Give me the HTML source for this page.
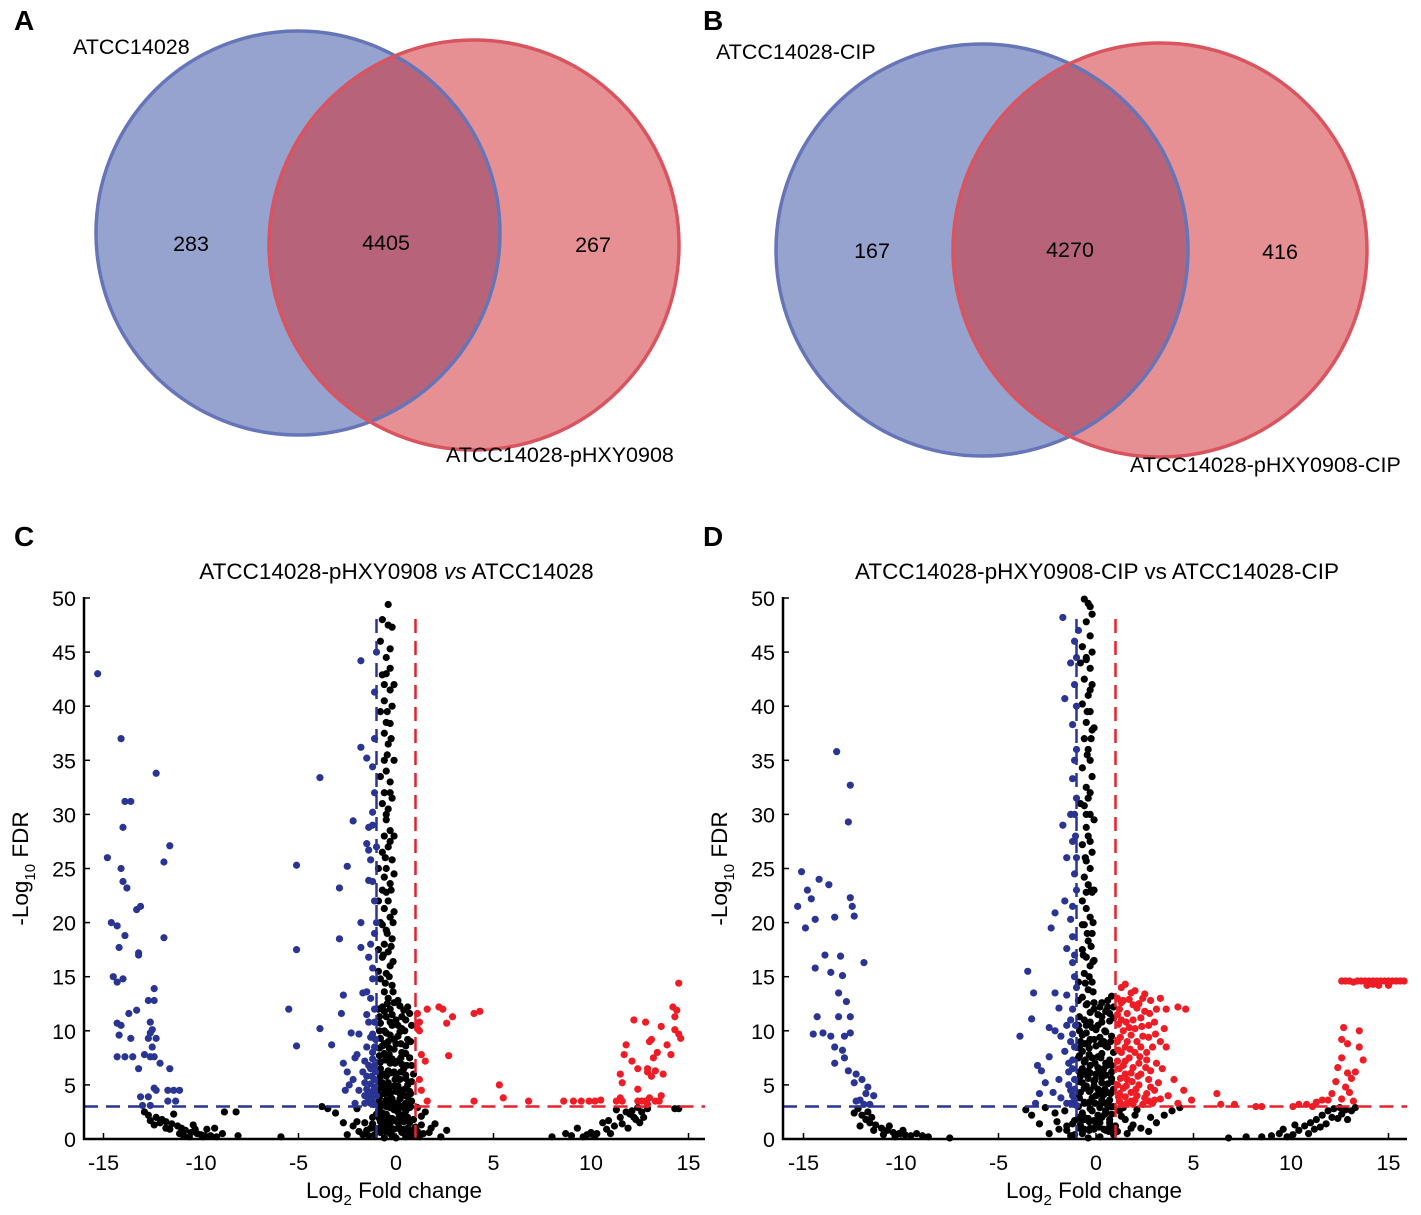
<!DOCTYPE html>
<html><head><meta charset="utf-8"><style>
html,body{margin:0;padding:0;background:#fff;}
svg{display:block;font-family:"Liberation Sans",Arial,sans-serif;}
</style></head><body>
<svg id="fig" width="1421" height="1215" viewBox="0 0 1421 1215" xmlns="http://www.w3.org/2000/svg">
<defs>
<clipPath id="clipA"><circle cx="298" cy="233" r="202"/></clipPath>
<clipPath id="clipB"><circle cx="982" cy="250" r="206"/></clipPath>
</defs>
<g>
<text x="14" y="30" font-size="28" font-weight="bold">A</text>
<circle cx="298" cy="233" r="202" fill="#97a3cf"/>
<circle cx="474" cy="245" r="205" fill="#e79094"/>
<circle cx="474" cy="245" r="205" fill="#b7647b" clip-path="url(#clipA)"/>
<circle cx="298" cy="233" r="202" fill="none" stroke="#6575b8" stroke-width="3.5"/>
<circle cx="474" cy="245" r="205" fill="none" stroke="#d9545f" stroke-width="3.5"/>
<text x="73" y="54" font-size="21.5">ATCC14028</text>
<text x="446" y="462" font-size="21.5">ATCC14028-pHXY0908</text>
<text x="191" y="251" font-size="21.5" text-anchor="middle">283</text>
<text x="386" y="250" font-size="21.5" text-anchor="middle">4405</text>
<text x="593" y="252" font-size="21.5" text-anchor="middle">267</text>
</g>
<g>
<text x="703" y="30" font-size="28" font-weight="bold">B</text>
<circle cx="982" cy="250" r="206" fill="#97a3cf"/>
<circle cx="1160" cy="250" r="207" fill="#e79094"/>
<circle cx="1160" cy="250" r="207" fill="#b7647b" clip-path="url(#clipB)"/>
<circle cx="982" cy="250" r="206" fill="none" stroke="#6575b8" stroke-width="3.5"/>
<circle cx="1160" cy="250" r="207" fill="none" stroke="#d9545f" stroke-width="3.5"/>
<text x="716" y="59" font-size="21.5">ATCC14028-CIP</text>
<text x="1130" y="472" font-size="21.5">ATCC14028-pHXY0908-CIP</text>
<text x="872" y="258" font-size="21.5" text-anchor="middle">167</text>
<text x="1070" y="257" font-size="21.5" text-anchor="middle">4270</text>
<text x="1280" y="259" font-size="21.5" text-anchor="middle">416</text>
</g>
<text x="14" y="546" font-size="28" font-weight="bold">C</text>
<text x="703" y="546" font-size="28" font-weight="bold">D</text>
<g id="plotC"></g>
<g id="plotD"></g>
</svg>
<script>
const xTicks = [-15,-10,-5,0,5,10,15];
const yTicks = [0,5,10,15,20,25,30,35,40,45,50];
const sigFDR = 3;
const fcCut = 1;

const cBlue = [[-15.3,43],[-14.8,26],[-14.6,20],[-14.3,19.7],[-14.1,37],[-14.0,28.8],[-13.9,31.2],[-13.6,31.2],[-14.1,25],[-14.0,23.8],[-13.8,23.2],[-14.2,17.7],[-14.5,15],[-14.3,14.5],[-14.0,14.8],[-13.9,18.8],[-13.3,21.2],[-13.1,21.5],[-13.2,17.2],[-13.2,17],[-12.3,33.8],[-11.6,27.1],[-11.9,25.6],[-11.9,18.6],[-14.3,10.7],[-14.1,10.5],[-14.2,9.6],[-13.7,11.6],[-13.3,11.9],[-13.6,9.3],[-12.7,12.8],[-12.4,12.8],[-12.4,13.9],[-12.6,10.8],[-12.5,10.1],[-12.6,9.8],[-12.3,9.3],[-12.7,9.3],[-12.5,8.5],[-14.3,7.6],[-13.9,7.6],[-13.5,7.6],[-12.9,7.8],[-12.6,7.6],[-12.4,7.6],[-12.1,7.0],[-13.2,6.5],[-11.6,6.5],[-12.4,4.7],[-12.3,4.5],[-11.7,4.5],[-11.4,4.5],[-11.1,4.5],[-13.1,3.9],[-12.7,3.9],[-11.7,3.5],[-11.3,3.5],[-13.0,3.1],[-12.6,3.1],
[-3.9,33.4],[-5.1,25.3],[-5.1,17.5],[-5.5,12],[-5.1,8.6],[-3.9,10.2],[-3.3,8.7],[-2.9,23.2],[-2.9,18.5],[-2.5,25.2],[-2.2,29.4],[-2.7,13.3],[-2.8,11.6],[-2.7,7],[-2.5,6.2],[-2.6,4.5],[-2.3,9.8],[-2.1,7.5],[-1.8,44.2],[-1.8,36.2],[-1.5,35.2],[-1.2,34.4],[-1.1,32],[-1.2,30.2],[-1.4,28.8],[-1.5,27.3],[-1.4,26.7],[-1.3,25.8],[-1.8,20],[-1.8,17.7],[-1.4,16.8],[-1.3,18],[-1.2,23.8],[-1.4,23.9],[-1.1,22],[-1.5,13.6],[-1.7,13.5],[-1.3,13],[-1.2,14.8],[-1.5,11.5],[-1.4,10.8],[-1.2,9.7],[-1.1,41.3],[-1.0,45],[-1.5,8.5],[-1.9,9.7],[-2.0,7.8],[-2.2,5.5],[-2.4,5],[-1.9,4.5],[-1.6,5.2],[-1.3,6.5],[-1.2,7.4],[-1.1,5.5],[-1.3,3.8],[-1.6,3.3],[-2.1,3.3],[-1.0,4],[-1.1,12],[-1.0,20],[-1.0,27],[-1.2,3.5],[-1.1,4.8],[-1.4,4.2],[-1.05,6.2],[-1.25,5.8],[-1.15,3.2],[-1.4,6.8],[-1.6,7.2],[-1.1,8.5],[-1.3,9.4],[-1.1,10.8],[-1.5,4.6],[-1.7,6.2],[-1.2,15.8],[-1.1,19],[-1.2,29],[-1.1,37],[-1.3,3.3],[-1.5,5.8],[-1.2,4.4],[-1.4,3.6],[-1.1,6.8],[-1.3,5.1],[-1.6,4.0],[-1.2,8.0],[-1.05,9.2]];
const cRed = [[1.1,11.6],[1.2,10.8],[1.1,10.2],[1.2,10],[1.6,12],[2.2,12.2],[2.4,12],[2.9,11.3],[2.6,10.7],[4.0,11.6],[4.3,11.8],[2.7,7.7],[1.3,7.8],[1.5,7.2],[1.2,5.5],[1.3,4.5],[1.6,3.5],[4.0,3.5],[5.3,5],[5.5,3.8],[6.8,3.5],[8.6,3.5],[9.1,3.5],[9.5,3.5],[9.9,3.5],[10.2,3.5],[10.5,3.6],[11.3,3.5],[11.5,3.8],[11.5,6],[11.6,5.2],[11.7,7.8],[11.8,8.7],[12.1,7.2],[12.2,11],[12.4,6.5],[12.4,4.6],[12.4,3.5],[12.6,3.5],[12.8,10.8],[12.9,6.5],[12.9,6.2],[13.0,9],[13.1,9.2],[13.1,5.8],[13.2,7.5],[13.3,6.3],[13.4,8],[13.6,10.4],[13.6,4],[13.7,6],[13.9,8.7],[14.1,7.8],[14.2,12.2],[14.3,11.3],[14.4,11.9],[14.3,10.1],[14.5,9.7],[14.6,9.3],[14.5,14.4],[12.9,3.2],[13.0,3.8],[13.3,3.5],[13.5,3.5],[12.8,3.5],[11.6,3.5]];
const cBlack = [[-12.9,2.5],[-12.7,2.2],[-12.3,2],[-12.0,1.8],[-11.8,1.6],[-11.5,1.4],[-11.2,1.2],[-11,1],[-10.8,0.8],[-10.5,0.6],[-10.2,0.5],[-10,0.4],[-9.8,0.3],[-9.5,0.3],[-9.2,0.2],[-8.9,0.5],[-8.8,2.5],[-8.2,2.5],[-8.1,0.3],[-9.3,1],[-10.4,1.3],[-11.4,2.3],[-11.8,1],[-12.4,1.3],[-10.9,0.3],[-9.7,0.9],[-5.9,0.2],[-12.6,1.7],[-11.1,0.5],[-10.6,0.2],[-12.1,1.5],[-11.6,0.9],[-10.3,0.9],[-9.9,0.2],
[8,0.2],[8.7,0.5],[9.0,0.3],[9.3,1],[9.6,0.2],[10,0.6],[10.3,0.5],[10.6,1.5],[10.9,1.7],[11.2,1.2],[11.3,2.7],[11.5,2],[11.8,2.5],[12.0,2.3],[12.2,2.0],[12.4,2.9],[12.6,2.5],[12.9,2.8],[12.5,1.5],[11.9,1],[10.2,0.3],[11,0.5],[12.3,1.8],[14.3,2.8],[14.5,2.8],[9.8,0.4],[11.6,1.4],[12.1,2.6],[12.7,2.0],[10.8,0.9],
[-0.4,49.4],[-0.7,48],[-0.8,46],[-0.4,47.5],[-0.2,47.3],[-0.3,45.3],[-0.5,43],[-0.3,43.5],[-0.7,42.9],[-0.6,42],[-0.6,40.5],[-0.2,40],[-0.8,39.5],[-0.5,38.5],[-0.3,38.4],[-0.6,37.5],[-0.4,36.5],[-0.6,35],[-0.5,34],[-0.8,33.5],[-0.3,33],[-0.6,32],[-0.2,31.5],[-0.7,31],[-0.4,30.5],[-0.5,29.5],[-0.3,28.5],[-0.6,28],[-0.4,27],[-0.7,26.5],[-0.2,25.8],[-0.5,25],[-0.6,24.2],[-0.3,23.6],[-0.7,23],[-0.4,22],[-0.6,21.3],[-0.3,20.5],[-0.8,20],[-0.5,19.3],[-0.2,18.5],[-0.6,18],[-0.4,17.3],[-0.7,16.8],[-0.3,16],[-0.5,15.3],[-0.8,14.8],[-0.2,14.2],[-0.6,13.6],[-0.4,13],[0.1,12.8],[-0.7,12.2],[-0.3,12],[0.2,12.3],[0.4,11.9],[-0.5,11.3],[0.0,11],[0.5,11],[-0.8,10.7],[-0.2,10.5],[0.3,10.2],[-0.6,10],[0.1,9.5],[-0.4,9],[0.6,9.2],[-0.7,8.6],[-0.1,8.3],[0.3,8],[-0.5,7.6],[0.1,7.2],[0.7,7.5],[-0.3,7],[-0.8,6.5],[0.4,6.5],[-0.1,6.2],[-0.5,5.8],[0.2,5.5],[-0.7,5.2],[0.6,5],[-0.3,4.8],[0.0,4.4],[-0.6,4.2],[0.4,4],[-0.2,3.7],[-0.9,3.4],[0.8,3.5],[0.1,3.2],[-0.5,3],[-0.1,2.7],[0.5,2.6],[-0.7,2.4],[0.3,2.2],[-0.4,2],[-1.2,2],[1.5,2.5],[0.9,1.8],[-0.8,1.6],[0.1,1.5],[-1.6,1.5],[1.3,1.3],[-0.3,1.2],[0.6,1],[-2.2,1.2],[2.0,1.4],[-1,0.9],[-0.5,0.7],[0.3,0.6],[-1.9,0.7],[1.7,0.6],[2.6,0.8],[-2.7,1.5],[-3.1,2.4],[-3.5,2.8],[-0.2,0.3],[0.8,0.3],[-1.4,0.3],[-2.5,0.4],[1.2,0.2],[0.0,0.1],[-0.6,0.1],[2.3,0.2],[-3.8,3],[-2.0,2.8],[1.1,2.9],[0.7,4.4],[0.9,6],[0.5,7.9],[0.2,9.9],[0.8,10.5],
[-0.6,11.8],[-0.2,11.5],[-0.8,9.3],[-0.3,9.6],[0.0,8.8],[-0.6,7.9],[-0.2,7.4],[-0.8,7.1],[0.3,6.9],[-0.4,6.3],[0.0,5.9],[-0.8,5.8],[0.5,5.6],[-0.4,5.2],[0.1,4.9],[-0.8,4.7],[0.3,4.5],[-0.3,4.1],[-0.9,4.1],[0.6,3.9],[-0.5,3.6],[0.2,3.7],[-0.8,3.0],[0.4,3.1],[-0.3,2.9],[0.7,2.9],[-0.9,2.6],[0.1,2.5],[-0.5,2.3],[0.6,2.0],[-0.2,1.9],[-1.0,2.3],[0.4,1.6],[-0.6,1.4],[1.0,1.1],[-1.3,1.0],[0.2,0.9],[-0.8,0.6],[1.4,0.5],[-1.7,0.4],[0.5,0.2],[-0.3,0.5],[-0.9,12.0],[-0.9,15.5],[-0.9,17.5],[-0.9,22],[-0.9,25],[-0.1,21],[-0.1,24.5],[-0.1,28],[-0.1,35],[-0.1,42],
[-0.85,1.0],[-0.6,0.9],[-0.35,0.8],[-0.1,0.9],[0.15,1.1],[0.4,0.9],[0.65,0.7],[-0.85,1.9],[-0.6,2.0],[-0.35,1.6],[-0.1,1.7],[0.15,2.0],[0.45,2.3],[0.7,1.5],[-0.85,3.8],[-0.6,3.3],[-0.35,3.4],[-0.05,3.3],[0.2,2.9],[0.5,3.3],[0.75,3.0],[-0.85,5.3],[-0.6,4.7],[-0.35,4.4],[-0.1,4.9],[0.2,4.2],[0.45,4.6],[0.75,4.2],[-0.85,6.2],[-0.6,6.0],[-0.3,6.1],[-0.05,5.5],[0.25,6.2],[0.5,5.9],[0.8,5.3],[-0.85,7.7],[-0.55,7.3],[-0.35,7.8],[-0.05,7.0],[0.25,7.5],[0.55,6.8],[0.8,6.8],[-0.85,8.4],[-0.6,8.8],[-0.35,8.4],[-0.1,9.2],[0.25,8.8],[0.5,8.6],[0.75,9.0],[-0.85,10.0],[-0.5,9.8],[-0.3,10.8],[0.1,10.5],[0.45,10.0],[0.7,11.6],[-0.85,11.3],[-0.45,12.5],[-0.1,12.6],[0.3,11.3],[0.6,12.2],[-0.15,13.6],[-0.55,14.4],[-0.35,15.0],[-0.15,16.4],[-0.65,17.0],[-0.25,17.8],[-0.45,19.0],[-0.7,19.8],[-0.15,20.0],[-0.5,22.8],[-0.25,23.0],[-0.55,26.0],[-0.3,27.5],[-0.5,30.0],[-0.3,32.0],[-0.45,35.5],[-0.25,37.0],[-0.45,39.5],[-0.3,41.5],[-0.5,44.5],[1.1,0.7],[1.3,2.1],[1.8,1.0],[-1.2,1.4],[-1.5,0.8],[-2.0,1.6],[-1.1,0.4],[0.9,0.9]];

const dBlue = [[-15.1,24.7],[-14.8,23],[-15.3,21.5],[-14.9,19.5],[-14.6,22.2],[-14.4,20.3],[-14.2,24],[-13.7,23.5],[-13.3,35.8],[-12.6,32.7],[-12.7,29.3],[-12.6,22.3],[-12.4,20.6],[-13.4,20.5],[-12.5,21.5],[-11.9,16.3],[-14.4,15.8],[-13.9,17],[-13.6,15.4],[-13.1,16.9],[-13.0,15.1],[-13.2,13.5],[-14.3,11.3],[-14.5,9.7],[-14.0,9.8],[-13.6,9.5],[-13.2,11.3],[-12.8,12.7],[-12.6,11.3],[-12.6,9.8],[-12.9,9.5],[-13.0,8.2],[-13.4,8.5],[-12.9,7.5],[-13.4,7],[-12.7,6.3],[-12.3,6],[-12.0,5.5],[-12.4,5.2],[-11.7,4.8],[-11.8,4.2],[-11.4,4],[-12.1,3.6],[-11.9,3.2],[-11.6,3.2],[-12.3,3.5],
[-1.7,48.2],[-1.6,40.7],[-1.1,46],[-0.9,47],[-1.3,44],[-1.1,42],[-1.0,40],[-1.2,38.3],[-1.0,36],[-1.1,35],[-1.2,33.3],[-1.0,31.5],[-1.3,30],[-1.7,29],[-1.2,27.5],[-1.5,26],[-1.1,24.5],[-1.0,23],[-1.6,22],[-2.1,20.9],[-2.3,19.5],[-1.3,20.3],[-1.2,18.7],[-1.5,17.6],[-1.2,16.3],[-1.1,15],[-3.5,15.5],[-3.2,13.5],[-2.1,13.5],[-1.9,12.1],[-1.5,13.3],[-1.2,12],[-3.9,9.5],[-3.3,11.1],[-2.4,10.3],[-2.1,10],[-1.8,9.5],[-1.5,10.5],[-1.3,9],[-3.0,6.8],[-2.8,6.3],[-2.4,7.6],[-1.6,8.1],[-1.2,7.3],[-2.6,5.2],[-1.9,5.5],[-1.4,6.2],[-1.1,5.5],[-2.9,4.2],[-2.2,4.3],[-1.8,3.8],[-1.3,4.5],[-1.1,3.6],[-3.1,3.3],[-1.5,3.3],[-1.0,3.1],[-1.2,6.5],[-1.05,10.5],[-1.05,28],[-1.0,44.5],[-1.2,4.0],[-1.4,5.0],[-1.1,8.5],[-1.3,11],[-1.0,14],[-1.1,17],[-1.2,21.5],[-1.0,26],[-1.1,30],[-1.3,3.3],[-1.1,4.6],[-1.4,7.0],[-1.2,9.7]];
const dRed = [[1.1,13],[1.3,14],[1.5,14.3],[1.8,13.5],[2.0,13.7],[2.2,12.5],[2.5,13.4],[2.8,12.8],[3.1,12],[3.3,13],[3.6,12],[4.2,12.2],[4.6,12],[1.2,12],[1.6,11.6],[1.9,11],[2.3,11.2],[2.7,10.5],[3.0,10.8],[3.5,10.2],[1.4,10],[1.8,9.6],[2.1,9],[2.4,9.5],[2.9,8.5],[3.3,9],[1.1,9],[1.3,8],[1.7,7.5],[2.0,8],[2.6,7.3],[3.1,7],[3.6,8.5],[1.2,6.5],[1.5,6],[1.9,6.6],[2.3,6],[2.7,5.5],[3.4,6.5],[4.0,5.5],[1.1,5],[1.4,4.7],[1.8,4.3],[2.2,5],[2.6,4.2],[3.0,4.5],[3.7,4],[4.5,4.5],[1.2,3.5],[1.6,3.3],[2.0,3.6],[2.4,3.2],[2.9,3.3],[3.3,3.7],[4.2,3.3],[4.9,3.6],[1.3,11],[2.5,11.8],[1.5,8.5],[2.2,7],[1.1,7.2],[1.1,11.5],[1.2,4.2],[1.4,12.8],[1.7,10.3],[1.4,6.8],[1.9,12.4],[2.1,4.0],[1.6,5.5],[2.8,6.3],[3.2,5.2],[2.4,13.0],
[1.15,3.9],[1.25,5.6],[1.15,8.2],[1.25,9.4],[1.15,10.6],[1.3,12.6],[1.5,3.9],[1.55,4.9],[1.5,7.2],[1.6,9.0],[1.55,10.8],[1.7,12.9],[1.8,3.5],[1.85,5.3],[1.8,6.1],[1.75,8.3],[2.0,10.2],[2.1,12.1],[2.05,4.6],[2.15,5.8],[2.25,7.6],[2.3,8.5],[2.35,10.4],[2.5,3.8],[2.55,6.6],[2.6,8.0],[2.7,9.4],[2.75,11.6],[2.8,4.8],[3.0,3.6],[3.05,9.7],[1.3,3.2],[1.9,3.2],[2.7,3.5],
[6.2,4.2],[6.4,3.2],[7.1,3.2],[8.2,3],[8.5,3],[10.1,3],[10.4,3.2],[10.8,3.2],[11.1,3],[11.3,3.4],[11.6,3.6],[11.9,3.6],[12.1,4.2],[12.3,5.3],[12.4,6.6],[12.6,7.5],[12.7,10.3],[12.6,9.2],[12.9,8.8],[12.9,6.1],[13.0,4.3],[13.1,5.6],[13.3,6.2],[13.5,8.5],[13.5,10],[13.7,7.3],[12.6,3.7],[12.8,4.8],[13.2,3.5],
[12.6,14.6],[12.8,14.6],[13.0,14.6],[13.2,14.5],[13.4,14.6],[13.6,14.6],[13.8,14.6],[14.0,14.6],[14.2,14.6],[14.4,14.6],[14.6,14.6],[14.8,14.6],[15.0,14.6],[15.2,14.6],[15.4,14.6],[15.6,14.6],[15.8,14.6],[13.9,14.2],[14.5,14.2],[15.0,14.2],[14.2,14.3]];
const dBlack = [[-12.2,2.8],[-12.0,2.2],[-11.8,1.8],[-11.6,1.5],[-11.3,1.3],[-11.0,1.0],[-10.7,0.8],[-10.4,0.6],[-10.1,0.5],[-9.8,0.4],[-9.5,0.3],[-9.2,0.5],[-8.9,0.3],[-8.6,0.2],[-11.4,0.8],[-10.9,0.4],[-10.3,0.2],[-9.9,0.8],[-12.1,1.2],[-11.7,2.5],[-7.5,0.1],[-12.4,2.4],[-11.5,2.0],[-10.6,1.2],
[8.5,0.2],[9.0,0.3],[9.4,0.5],[9.8,0.2],[10.1,0.4],[10.4,0.8],[10.7,1.2],[11.0,1.5],[11.3,1.8],[11.6,2.2],[11.9,2.6],[12.2,2.8],[12.5,2.9],[12.8,2.7],[13.1,2.6],[11.2,0.9],[10.9,0.5],[11.8,1.4],[12.4,1.9],[10.2,1.3],[13.3,2.9],[12.9,1.8],[9.6,0.9],[6.8,0.1],[7.7,0.2],[12.1,2.0],[11.5,1.1],[12.6,2.3],
[-0.6,49.9],[-0.4,49.5],[-0.3,49.2],[-0.2,48.5],[-0.5,47.8],[-0.3,46.5],[-0.7,45.5],[-0.2,45],[-0.5,44.3],[-0.3,43.5],[-0.6,42.5],[-0.2,42],[-0.4,41],[-0.7,40.2],[-0.3,39.5],[-0.5,38.5],[-0.2,37.8],[-0.6,37],[-0.4,36],[-0.3,35],[-0.7,34.3],[-0.2,33.5],[-0.5,32.5],[-0.4,31.5],[-0.6,30.8],[-0.3,30],[-0.1,29.5],[-0.5,28.8],[-0.4,28],[-0.7,27.2],[-0.2,26.5],[-0.5,25.7],[-0.3,25],[-0.6,24.2],[-0.4,23.5],[-0.2,22.8],[-0.7,22],[-0.5,21.3],[-0.3,20.5],[-0.6,19.8],[-0.2,19],[-0.4,18.3],[-0.7,17.5],[-0.5,16.8],[-0.3,16],[-0.6,15.3],[-0.2,14.5],[-0.4,13.8],[-0.7,13.1],[-0.5,12.4],[0.3,12.6],[0.6,12.8],[0.8,13.2],[-0.3,11.7],[0.1,11.5],[0.5,11.8],[-0.6,11],[0.3,10.8],[0.7,10.9],[-0.2,10.3],[0.0,10.1],[0.5,9.9],[-0.7,9.6],[0.2,9.4],[0.8,9.5],[-0.4,8.9],[0.0,8.6],[0.6,8.5],[-0.7,8.1],[0.3,7.9],[0.9,8],[-0.2,7.5],[-0.6,7.1],[0.5,7.0],[0.1,6.6],[-0.4,6.3],[0.8,6.2],[-0.8,5.8],[0.3,5.7],[-0.1,5.3],[0.6,5.1],[-0.5,4.9],[0.1,4.6],[0.9,4.6],[-0.8,4.3],[0.4,4.1],[-0.2,3.8],[0.7,3.6],[-0.6,3.4],[0.2,3.2],[-0.9,3.0],[0.9,3.0],[-0.3,2.8],[0.5,2.6],[-0.7,2.4],[0.1,2.2],[1.2,2.6],[-0.4,1.9],[0.7,1.8],[-1.1,1.7],[1.5,1.8],[0.2,1.5],[-0.8,1.3],[1.0,1.2],[-1.5,1.2],[1.9,1.3],[-0.3,1.0],[0.5,0.8],[-1.9,0.9],[2.3,1.0],[-0.7,0.5],[0.9,0.4],[-1.3,0.3],[1.6,0.5],[2.7,0.7],[-2.4,0.5],[0.2,0.2],[-0.4,0.1],[3.1,1.5],[3.5,2.2],[3.9,2.6],[2.0,2.2],[-2.9,1.4],[-3.3,2.2],[-3.6,2.7],[-2.1,2.4],[-1.6,2.6],
[-0.1,12],[-0.5,10.5],[-0.8,9.0],[-0.3,9.2],[0.4,9.0],[-0.9,7.5],[0.1,7.6],[0.7,7.3],[-0.3,6.8],[0.4,6.5],[-0.7,6.5],[0.0,6.0],[0.8,5.6],[-0.4,5.6],[0.3,5.2],[-0.7,5.2],[-0.3,4.5],[0.6,4.3],[-0.9,4.0],[0.0,4.0],[0.3,3.6],[-0.4,3.3],[0.6,3.1],[-0.2,2.6],[0.8,2.3],[-0.9,2.0],[0.3,2.0],[-0.6,1.8],[0.0,1.3],[0.7,1.2],[-0.9,10.5],[-0.9,12.8],[0.9,11.2],[0.9,12.2],[0.2,12.2],[-0.9,14.5],[-0.1,16.5],[-0.1,23],[-0.1,38],[-0.8,31],[-0.8,44],
[-0.85,1.0],[-0.6,0.9],[-0.35,0.8],[-0.1,0.9],[0.15,1.1],[0.4,0.9],[0.65,0.7],[-0.85,1.9],[-0.6,2.0],[-0.35,1.6],[-0.1,1.7],[0.15,2.0],[0.45,2.3],[0.7,1.5],[-0.85,3.8],[-0.6,3.3],[-0.35,3.4],[-0.05,3.3],[0.2,2.9],[0.5,3.3],[0.75,3.0],[-0.85,5.3],[-0.6,4.7],[-0.35,4.4],[-0.1,4.9],[0.2,4.2],[0.45,4.6],[0.75,4.2],[-0.85,6.2],[-0.6,6.0],[-0.3,6.1],[-0.05,5.5],[0.25,6.2],[0.5,5.9],[0.8,5.3],[-0.85,7.7],[-0.55,7.3],[-0.35,7.8],[-0.05,7.0],[0.25,7.5],[0.55,6.8],[0.8,6.8],[-0.85,8.4],[-0.6,8.8],[-0.35,8.4],[-0.1,9.2],[0.25,8.8],[0.5,8.6],[0.75,9.0],[-0.85,10.0],[-0.5,9.8],[-0.3,10.8],[0.1,10.5],[0.45,10.0],[0.7,11.6],[-0.85,11.3],[-0.45,12.5],[-0.1,12.6],[0.3,11.3],[0.6,12.2],[-0.15,13.6],[-0.55,14.4],[-0.35,15.0],[-0.15,16.4],[-0.65,17.0],[-0.25,17.8],[-0.45,19.0],[-0.7,19.8],[-0.15,20.0],[-0.5,22.8],[-0.25,23.0],[-0.55,26.0],[-0.3,27.5],[-0.5,30.0],[-0.3,32.0],[-0.45,35.5],[-0.25,37.0],[-0.45,39.5],[-0.3,41.5],[-0.5,44.5],[1.1,0.7],[1.3,2.1],[1.8,1.0],[-1.2,1.4],[-1.5,0.8],[-2.0,1.6],[-1.1,0.4],[0.9,0.9],[1.4,2.9],[2.1,2.7],[2.8,2.0],[4.3,2.9],[-2.6,2.9]];

function makeEl(tag){return document.createElementNS('http://www.w3.org/2000/svg',tag);}

function drawPlot(gid, L, R, x0px, pxPerUnit, title, blacks, blues, reds, italicVs){
  const g = document.getElementById(gid);
  const Y0 = 1139, Y50 = 598;
  const sx = v => x0px + v*pxPerUnit;
  const sy = v => Y0 - (v/50)*(Y0-Y50);
  const xmin = (L - x0px)/pxPerUnit;
  function dot(p, color, name){
    const c = makeEl('circle');
    c.setAttribute('cx', sx(p[0])); c.setAttribute('cy', sy(p[1])); c.setAttribute('r', 3.6);
    c.setAttribute('fill', color);
    
    
    g.appendChild(c);
  }
  blacks.forEach(p=>dot(p,'#000','point-not-significant'));
  blues.forEach(p=>dot(p,'#2a3593','point-downregulated'));
  reds.forEach(p=>dot(p,'#ee1c25','point-upregulated'));
  function dash(x1,y1,x2,y2,color,name){
    const l = makeEl('line');
    l.setAttribute('x1',x1);l.setAttribute('y1',y1);l.setAttribute('x2',x2);l.setAttribute('y2',y2);
    l.setAttribute('stroke',color);l.setAttribute('stroke-width','2.5');l.setAttribute('stroke-dasharray','14 8');
    
    
    g.appendChild(l);
  }
  dash(sx(xmin), sy(sigFDR), sx(-fcCut), sy(sigFDR), '#2a3593', 'fdr-threshold-line-down');
  dash(sx(-fcCut), sy(0), sx(-fcCut), sy(48.5), '#2a3593', 'fold-change-threshold-line-down');
  dash(sx(fcCut), sy(0), sx(fcCut), sy(48.5), '#e8202a', 'fold-change-threshold-line-up');
  dash(sx(fcCut), sy(sigFDR), R, sy(sigFDR), '#e8202a', 'fdr-threshold-line-up');
  const ax = makeEl('path');
  ax.setAttribute('d', `M${L},${sy(50)-1}L${L},${Y0}L${R},${Y0}`);
  ax.setAttribute('fill','none'); ax.setAttribute('stroke','#000'); ax.setAttribute('stroke-width','2.5');
  
  
  g.appendChild(ax);
  yTicks.forEach(t=>{
    const tk = makeEl('line');
    tk.setAttribute('x1',L);tk.setAttribute('x2',L+6);tk.setAttribute('y1',sy(t));tk.setAttribute('y2',sy(t));
    tk.setAttribute('stroke','#000');tk.setAttribute('stroke-width','1.5');
    
    
    g.appendChild(tk);
    const tx = makeEl('text');
    tx.setAttribute('x', L-8); tx.setAttribute('y', sy(t)+8); tx.setAttribute('font-size','21.5'); tx.setAttribute('text-anchor','end');
    tx.textContent = t;
    
    
    g.appendChild(tx);
  });
  xTicks.forEach(t=>{
    const tk = makeEl('line');
    tk.setAttribute('x1',sx(t));tk.setAttribute('x2',sx(t));tk.setAttribute('y1',Y0);tk.setAttribute('y2',Y0-6);
    tk.setAttribute('stroke','#000');tk.setAttribute('stroke-width','1.5');
    
    
    g.appendChild(tk);
    const tx = makeEl('text');
    tx.setAttribute('x', sx(t)); tx.setAttribute('y', 1170); tx.setAttribute('font-size','21.5'); tx.setAttribute('text-anchor','middle');
    tx.textContent = t;
    
    
    g.appendChild(tx);
  });
  const xl = makeEl('text');
  xl.setAttribute('x', sx(0)-2); xl.setAttribute('y', 1198); xl.setAttribute('font-size','22.5'); xl.setAttribute('text-anchor','middle');
  xl.innerHTML = 'Log<tspan font-size="15" dy="7">2</tspan><tspan dy="-7"> Fold change</tspan>';
  
  
  g.appendChild(xl);
  const yl = makeEl('text');
  yl.setAttribute('transform', `translate(${L-56},${sy(25)}) rotate(-90)`);
  yl.setAttribute('font-size','22.5'); yl.setAttribute('text-anchor','middle');
  yl.innerHTML = '-Log<tspan font-size="15" dy="7">10</tspan><tspan dy="-7"> FDR</tspan>';
  
  
  g.appendChild(yl);
  const tt = makeEl('text');
  tt.setAttribute('x', (L+R)/2+2); tt.setAttribute('y', 579); tt.setAttribute('font-size','22.5'); tt.setAttribute('text-anchor','middle');
  tt.innerHTML = italicVs ? title[0]+' <tspan font-style="italic">vs</tspan> '+title[1] : title[0]+' vs '+title[1];
  
  
  g.appendChild(tt);
}
drawPlot('plotC', 84, 705, 396, 19.5, ['ATCC14028-pHXY0908','ATCC14028'], cBlack, cBlue, cRed, true);
drawPlot('plotD', 783, 1407, 1096, 19.5, ['ATCC14028-pHXY0908-CIP','ATCC14028-CIP'], dBlack, dBlue, dRed, false);
</script>
</body></html>
